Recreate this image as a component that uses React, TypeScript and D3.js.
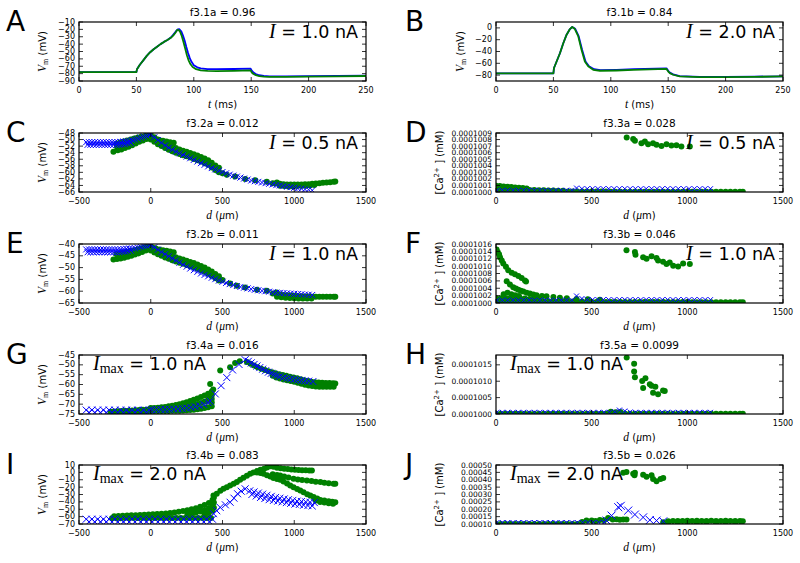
import React from 'react';
import * as d3 from 'd3';

type P = [number, number];

// ---------- Panel A / B : voltage traces (t in ms, V in mV) ----------
const aBlue: P[] = [[0,-78],[50,-78],[50.5,-74],[53,-68],[56,-62],[59,-56],[62,-51],[65,-47],[68,-43.5],[71,-40],[74,-37],[77,-34.5],[80,-31],[82,-27.5],[84,-23.5],[86,-20],[87.5,-19.8],[89,-22.5],[90.5,-28],[92,-35],[93.5,-44],[95,-52],[96.5,-59],[98,-64],[100,-68.5],[103,-71.5],[106,-73],[112,-73.8],[120,-74],[135,-73.7],[149.5,-73.2],[150.5,-76],[152,-78.5],[154,-80.5],[157,-82.2],[161,-83.2],[166,-83.6],[180,-83.7],[200,-83.5],[225,-83.2],[250,-82.8]];
const aGreen: P[] = [[0,-78],[50,-78],[50.5,-74],[53,-68],[56,-62],[59,-56],[62,-51],[65,-47],[68,-43.5],[71,-40],[74,-37],[77,-34.5],[80,-31.5],[82,-28.5],[84,-24.5],[85.5,-21],[86.5,-20.5],[88,-23],[89.5,-29],[91,-37],[92.5,-46],[94,-55],[95.5,-62],[97,-67],[99,-71],[102,-74],[106,-75.5],[112,-76.3],[120,-76.5],[135,-76.2],[149.5,-75.6],[150.5,-78.5],[152,-80.5],[154,-82],[157,-83.3],[161,-84],[166,-84.3],[180,-84.3],[200,-84],[225,-83.7],[250,-83.2]];
const bBlue: P[] = [[0,-77.2],[50,-77.2],[50.5,-68],[52.8,-57],[55.7,-43],[58.6,-26],[61.5,-11.5],[64.4,-2],[66.4,1.5],[69,-1.5],[72,-14],[75,-37],[78,-57],[81,-65],[85.5,-70],[91,-71.5],[105,-71],[120,-70],[148.5,-68.5],[150.5,-74],[151.4,-75.8],[154.3,-78.8],[160,-81.8],[177.5,-83],[200,-83],[225,-82.6],[250,-82]];
const bGreen: P[] = [[0,-77.2],[50,-77.2],[50.5,-68],[52.8,-57],[55.7,-43],[58.6,-26],[61.5,-11.5],[64.4,-2],[66.4,1.5],[68.7,-2],[71.6,-14],[74.5,-37],[77.4,-57],[80.3,-65],[84.7,-71],[90.5,-72.6],[105,-72.2],[119.5,-71.2],[148.5,-69.5],[150.5,-75],[151.4,-76.6],[154.3,-79.4],[160,-82.3],[177.5,-83.4],[200,-83.4],[225,-83],[250,-82.3]];

// ---------- Panel C (d in um, V in mV) ----------
const cBlue: P[] = [[-450,-50.8],[-440,-51.6],[-430,-50.8],[-420,-51.6],[-410,-50.8],[-400,-51.6],[-390,-50.8],[-380,-51.6],[-370,-50.8],[-360,-51.6],[-350,-50.8],[-340,-51.6],[-330,-50.8],[-320,-51.6],[-310,-50.8],[-300,-51.6],[-290,-50.8],[-280,-51.6],[-270,-50.8],[-260,-51.6],[-250,-50.8],[-240,-51.6],[-230,-50.8],[-220,-51.6],[-210,-50.7],[-200,-51.5],[-190,-50.6],[-180,-51.4],[-170,-50.5],[-160,-51.2],[-150,-50.4],[-140,-51.0],[-130,-50.2],
[-110,-50.0],[-90,-49.7],[-70,-49.4],[-50,-49.1],[-30,-48.8],[-10,-48.5],
[0,-48.4],[25,-49.3],[50,-50.2],[75,-51.0],[100,-51.8],[125,-52.5],[150,-53.1],[175,-53.7],[200,-54.2],[225,-54.7],[250,-55.2],[275,-55.7],[300,-56.2],[325,-56.7],[350,-57.2],[375,-57.7],[400,-58.2],[425,-58.7],[450,-59.1],[475,-59.5],[500,-59.9],[525,-60.3],[550,-60.7],[575,-61.0],[600,-61.3],[625,-61.6],[650,-61.9],[675,-62.2],[700,-62.5],[725,-62.7],[750,-62.9],[775,-63.1],[800,-63.3],[825,-63.5],[850,-63.7],[875,-63.9],[900,-64.0],[925,-64.2],[950,-64.4],[975,-64.5],[1000,-64.7],[1025,-64.9],[1050,-65.0],[1075,-65.2],[1100,-65.3],[1125,-65.5]];
const cGreen: P[] = [[-240,-51.3],[-215,-50.9],[-190,-50.6],[-165,-50.3],[-140,-50.0],[-115,-49.7],[-90,-49.4],[-65,-49.1],[-40,-48.9],[-15,-48.7],
[-235,-52.3],[-205,-51.8],[-175,-51.4],[-145,-51.0],[-115,-50.6],[-85,-50.1],[-55,-49.6],[-25,-49.2],
[-260,-53.7],[-230,-53.3],[-205,-53.0],[-180,-52.6],[-155,-52.2],[-130,-51.7],[-105,-51.2],[-80,-50.7],[-55,-50.3],[-30,-49.8],[-5,-49.3],
[10,-49.6],[35,-49.9],[60,-50.2],[85,-50.4],[110,-50.6],[135,-50.8],[160,-51.0],
[0,-48.6],[25,-49.3],[50,-50.0],[75,-50.6],[100,-51.2],[125,-51.7],[150,-52.2],[175,-52.6],[200,-53.0],[225,-53.4],[250,-53.7],[275,-54.1],[300,-54.5],[325,-54.9],[350,-55.3],[375,-55.8],[400,-56.3],[425,-57.1],[450,-57.9],[475,-58.6],
[0,-50.0],[25,-50.7],[50,-51.4],[75,-52.0],[100,-52.6],[125,-53.1],[150,-53.6],[175,-54.0],[200,-54.4],[225,-54.8],[250,-55.1],[275,-55.5],[300,-55.9],[325,-56.3],[350,-56.7],[375,-57.2],[400,-57.7],[425,-58.5],[450,-59.3],[475,-60.0],
[500,-60.3],[530,-60.7],[588,-61.3],[658,-62.0],[728,-62.4],[809,-62.9],[879,-63.1],
[850,-63.3],[875,-63.4],[900,-63.5],[925,-63.6],[950,-63.7],[975,-63.7],[1000,-63.7],[1025,-63.7],[1050,-63.7],[1075,-63.6],[1100,-63.6],[1125,-63.5],[1150,-63.4],[1175,-63.3],[1200,-63.2],[1225,-63.1],[1250,-63.0],[1275,-62.9],[1286,-62.8],
[900,-64.1],[930,-64.2],[960,-64.3],[990,-64.3],[1020,-64.2],[1050,-64.2],[1080,-64.1],[1110,-64.0],[1140,-63.9]];

// ---------- Panel E ----------
const eBlue: P[] = [[-450,-42.3],[-440,-43.5],[-430,-42.3],[-420,-43.5],[-410,-42.3],[-400,-43.5],[-390,-42.3],[-380,-43.5],[-370,-42.3],[-360,-43.5],[-350,-42.3],[-340,-43.5],[-330,-42.3],[-320,-43.5],[-310,-42.3],[-300,-43.5],[-290,-42.3],[-280,-43.5],[-270,-42.3],[-260,-43.5],[-250,-42.3],[-240,-43.5],[-230,-42.3],[-220,-43.4],[-210,-42.2],[-200,-43.3],[-190,-42.1],[-180,-43.2],[-170,-42.0],[-160,-43.0],[-150,-41.9],[-140,-42.8],[-130,-41.9],
[-110,-41.8],[-90,-41.5],[-70,-41.2],[-50,-40.9],[-30,-40.7],[-10,-40.5],
[0,-40.4],[25,-41.4],[50,-42.4],[75,-43.4],[100,-44.3],[125,-45.2],[150,-46.1],[175,-47.0],[200,-47.9],[225,-48.8],[250,-49.6],[275,-50.4],[300,-51.1],[325,-51.8],[350,-52.5],[375,-53.1],[400,-53.7],[425,-54.3],[450,-54.9],[475,-55.5],[500,-56.0],[525,-56.5],[550,-57.0],[575,-57.4],[600,-57.8],[625,-58.2],[650,-58.5],[675,-58.8],[700,-59.1],[725,-59.4],[750,-59.6],[775,-59.8],[800,-60.0],[825,-60.2],[850,-60.4],[875,-60.6],[900,-60.7],[925,-60.8],[950,-60.9],[975,-61.0],[1000,-61.1],[1025,-61.2],[1050,-61.3],[1075,-61.4],[1100,-61.5],[1125,-61.6]];
const eGreen: P[] = [[-240,-44.2],[-215,-43.9],[-190,-43.6],[-165,-43.3],[-140,-43.0],[-115,-42.6],[-90,-42.2],[-65,-41.8],[-40,-41.4],[-15,-41.0],
[-225,-45.2],[-195,-44.8],[-165,-44.4],[-135,-44.0],[-105,-43.5],[-75,-43.0],[-45,-42.4],[-20,-41.8],
[-260,-46.6],[-235,-46.4],[-210,-46.1],[-185,-45.8],[-160,-45.4],[-135,-45.0],[-110,-44.5],[-85,-44.0],[-60,-43.4],[-35,-42.8],[-10,-42.1],
[10,-41.5],[35,-41.9],[60,-42.3],[85,-42.6],[110,-42.9],[135,-43.2],[160,-43.5],
[0,-41.0],[25,-41.8],[50,-42.5],[75,-43.2],[100,-43.9],[125,-44.5],[150,-45.1],[175,-45.6],[200,-46.1],[225,-46.6],[250,-47.1],[275,-47.6],[300,-48.1],[325,-48.7],[350,-49.3],[375,-50.0],[400,-50.8],[425,-51.7],[450,-52.7],[475,-53.7],
[0,-42.8],[25,-43.6],[50,-44.3],[75,-45.0],[100,-45.7],[125,-46.3],[150,-46.9],[175,-47.4],[200,-47.9],[225,-48.4],[250,-48.9],[275,-49.4],[300,-49.9],[325,-50.5],[350,-51.1],[375,-51.8],[400,-52.6],[425,-53.5],[450,-54.5],[475,-55.5],
[500,-55.3],[553,-56.7],[600,-57.7],[658,-58.4],[740,-59.4],[809,-59.8],[879,-60.5],
[850,-61.0],[875,-61.2],[900,-61.4],[925,-61.6],[950,-61.7],[975,-61.8],[1000,-61.9],[1025,-62.0],[1050,-62.1],[1075,-62.2],[1100,-62.2],[1125,-62.3],[1150,-62.3],[1175,-62.3],[1200,-62.3],[1225,-62.3],[1250,-62.3],[1275,-62.3],[1286,-62.4],
[880,-62.3],[910,-62.6],[940,-62.8],[970,-62.9],[1000,-63.0],[1030,-63.1],[1060,-63.1],[1090,-63.1],[1120,-63.1]];

// ---------- Panel G ----------
const gBlue: P[] = [[-450,-73.0],[-430,-74.2],[-410,-73.0],[-390,-74.2],[-370,-73.0],[-350,-74.2],[-330,-73.0],[-310,-74.2],[-290,-73.0],[-270,-74.2],[-250,-73.0],[-230,-74.2],[-210,-73.0],[-190,-74.2],[-170,-73.0],[-150,-74.2],[-130,-73.0],[-110,-74.2],[-90,-73.0],[-70,-74.2],[-50,-73.0],[-30,-74.2],[-10,-73.0],
[10,-72.8],[40,-72.8],[70,-72.7],[100,-72.7],[130,-72.6],[160,-72.5],[190,-72.4],[220,-72.2],[250,-72.0],[280,-71.7],[310,-71.3],[340,-70.8],[370,-70.2],[400,-69.2],
[414,-68.5],[450,-64.8],[490,-60.6],[530,-56.5],[570,-52.6],[615,-49.8],[658,-47.4],
[680,-48.2],[700,-49.0],[720,-49.8],[740,-50.6],[760,-51.4],[780,-52.2],[800,-53.0],[820,-53.7],[840,-54.3],[860,-54.9],[880,-55.4],[900,-55.9],[925,-56.4],[950,-56.8],[975,-57.1],[1000,-57.4],[1025,-57.7],[1050,-57.9],[1075,-58.1],[1100,-58.3],[1130,-58.5]];
const gGreen: P[] = [[-280,-73.8],[-255,-73.7],[-230,-73.6],[-205,-73.5],[-180,-73.4],[-155,-73.3],[-130,-73.2],[-105,-73.1],[-80,-73.0],[-55,-72.9],[-30,-72.8],[-5,-72.7],
[-270,-74.6],[-240,-74.6],[-210,-74.6],[-180,-74.6],[-150,-74.6],[-120,-74.6],[-90,-74.6],[-60,-74.6],[-30,-74.6],
[0,-73.5],[25,-73.5],[50,-73.5],[75,-73.5],[100,-73.5],[125,-73.5],[150,-73.4],[175,-73.4],[200,-73.3],[225,-73.2],[250,-73.1],[275,-73.0],[300,-72.8],[325,-72.6],[350,-72.3],[375,-72.0],[400,-71.6],[425,-71.0],
[0,-72.0],[25,-71.9],[50,-71.8],[75,-71.6],[100,-71.4],[125,-71.1],[150,-70.8],[175,-70.4],[200,-70.0],[225,-69.5],[250,-69.0],[275,-68.4],[300,-67.8],[325,-67.1],[350,-66.4],[375,-65.6],[400,-64.7],[425,-63.6],
[150,-72.1],[175,-71.9],[200,-71.6],[225,-71.3],[250,-71.0],[275,-70.7],[300,-70.3],[325,-69.9],[350,-69.4],[375,-68.8],[400,-68.2],[425,-67.4],
[400,-66.3],[425,-65.5],[425,-69.2],[435,-62.5],
[414,-59.8],[484,-52.9],[553,-51.2],[588,-49.1],[620,-48.2],
[670,-48.6],[695,-49.4],[720,-50.3],[745,-51.2],[770,-52.0],[795,-52.6],[820,-53.2],[845,-53.8],[870,-54.3],[895,-54.8],[920,-55.2],[945,-55.6],[970,-56.0],[995,-56.4],[1020,-56.8],[1045,-57.3],[1070,-57.8],[1095,-58.2],[1120,-58.6],[1145,-58.8],[1170,-59.0],[1195,-59.1],[1220,-59.2],[1245,-59.3],[1270,-59.4],[1286,-59.5],
[850,-55.6],[875,-56.4],[900,-57.0],[925,-57.4],[950,-57.8],[975,-58.2],[1000,-58.6],[1025,-59.1],[1050,-59.6],[1075,-60.1],[1100,-60.5],[1125,-60.8],[1150,-61.0],[1175,-61.1],[1200,-61.2],[1225,-61.2],[1250,-61.2],[1275,-61.2]];

// ---------- Panel I ----------
const iBlue: P[] = [[-450,-63.5],[-430,-67],[-410,-63.5],[-390,-67],[-370,-63.5],[-350,-67],[-330,-63.5],[-310,-67],[-290,-63.5],[-270,-67],[-250,-63.5],[-230,-67],[-210,-63.5],[-190,-67],[-170,-63.5],[-150,-67],[-130,-63.5],[-110,-67],[-90,-63.5],[-70,-67],[-50,-63.5],[-30,-67],[-10,-63.5],[10,-67],[30,-63.5],[50,-67],[70,-63.5],[90,-67],[110,-63.5],[130,-67],[150,-63.5],[170,-67],[190,-63.5],[210,-67],[230,-63.5],[250,-67],[270,-63.5],[290,-67],[310,-63.5],[330,-67],[350,-63.5],[370,-67],[390,-63.5],[410,-67],[430,-63.5],
[437,-56],[460,-52],[484,-47.5],[520,-44],[553,-40.5],[580,-35],[605,-29],[630,-25.5],[658,-22.3],
[690,-25],[720,-26.5],[750,-28],[780,-29.5],[810,-31],[840,-32.5],[870,-34],[900,-35],[930,-36],[960,-37],[990,-38],[1020,-39],[1050,-39.5],[1080,-40],[1110,-40.5],[1140,-41],
[705,-30],[735,-32],[765,-34],[795,-35.5],[825,-37],[855,-38],[885,-39],[915,-40],[945,-41],[975,-42],[1005,-43],[1035,-43.5],[1065,-44.5],[1095,-45],[1125,-45.5]];
const iGreen: P[] = [[-270,-62.3],[-240,-62.2],[-210,-62.1],[-180,-62.0],[-150,-62.0],[-120,-61.9],[-90,-61.9],[-60,-61.8],[-30,-61.8],[0,-61.8],[30,-61.8],[60,-61.8],[90,-61.8],[120,-61.8],[150,-61.8],[180,-61.8],[210,-61.8],[240,-61.8],[270,-61.8],[300,-61.8],[330,-61.8],[360,-61.8],[390,-61.8],[420,-61.8],
[-255,-59.5],[-225,-59.2],[-195,-58.9],[-165,-58.6],[-135,-58.3],[-105,-58.0],[-75,-57.7],[-45,-57.4],[-15,-57.1],[15,-56.8],[45,-56.4],[75,-56.0],[105,-55.6],[135,-55.0],[165,-54.3],[195,-53.5],[225,-52.5],[255,-51.3],[285,-50.0],[315,-48.5],[345,-46.5],[375,-44.2],[405,-41.5],[430,-37.5],[440,-34],
[255,-56.5],[285,-55.5],[315,-54.3],[345,-53],[375,-51.3],[405,-49],[430,-45.5],[440,-41],
[375,-57],[405,-55],[430,-52],[440,-48],[437,-31.4],
[460,-29],[485,-25],[507,-22.3],[530,-20],[553,-17.7],[578,-15.5],[600,-13.2],[623,-10],[646,-7.3],[670,-4.5],[693,-1.8],[716,0],[740,1.8],[765,3.5],[790,5],
[810,6.5],[833,8.2],[855,7.5],[880,6.4],[905,5.7],[930,5.0],[955,4.5],[980,4.0],[1005,3.6],[1030,3.3],[1055,3.0],[1080,2.8],[1105,2.7],[1123,2.7],
[850,-2.5],[880,-3.5],[902,-4.1],[930,-5.5],[960,-7],[995,-8.6],[1025,-9.5],[1055,-10.2],[1088,-10.9],[1120,-11.8],[1150,-12.6],[1182,-13.2],[1210,-14],[1240,-14.7],[1274,-15.5],[1286,-15.5],
[740,0],[765,-1],[786,-2],[810,-4],[833,-5.5],[855,-7.5],[880,-9],[902,-10],[925,-12.5],[950,-15],[972,-17.7],[995,-20],[1020,-22.5],[1042,-24.5],[1065,-27],[1090,-29.5],[1112,-31.4],[1135,-33.5],[1160,-35.5],[1182,-37.3],[1210,-38.3],[1240,-39],[1265,-39.8],[1286,-40.5],
[1150,-38],[1180,-40],[1210,-41],[1240,-42],[1270,-42.5]];

// ---------- Panel D ([Ca] in mM) ----------
const dBlue: P[] = [[5,1.00025e-4],[33,1.00025e-4],[61,1.00025e-4],[89,1.00025e-4],[117,1.00025e-4],[145,1.00025e-4],[173,1.00025e-4],[201,1.00025e-4],[229,1.00025e-4],[257,1.00025e-4],[285,1.00025e-4],[313,1.00025e-4],[341,1.00025e-4],[369,1.00025e-4],[397,1.00025e-4],
[421,1.0006e-4],[449,1.0005e-4],[477,1.0005e-4],[505,1.0005e-4],[533,1.0005e-4],[561,1.0005e-4],[589,1.0005e-4],[617,1.0005e-4],[645,1.0005e-4],[673,1.0005e-4],[701,1.0005e-4],[729,1.0005e-4],[757,1.0005e-4],[785,1.0005e-4],[813,1.0005e-4],[841,1.0005e-4],[869,1.0005e-4],[897,1.0005e-4],[925,1.0005e-4],[953,1.0005e-4],[981,1.0005e-4],[1009,1.0005e-4],[1037,1.0005e-4],[1065,1.0005e-4],[1093,1.0005e-4],[1121,1.0005e-4]];
const dGreen: P[] = [[683,1.00833e-4],[717,1.00807e-4],[726,1.00781e-4],[760,1.00745e-4],[778,1.00771e-4],[795,1.00729e-4],[821,1.00745e-4],[839,1.00719e-4],[865,1.00703e-4],[891,1.00729e-4],[917,1.00708e-4],[943,1.00714e-4],[969,1.00693e-4],[1013,1.00693e-4],
[0,1.00095e-4],[20,1.0009e-4],[40,1.00085e-4],[60,1.0008e-4],[80,1.00075e-4],[100,1.0007e-4],[120,1.00065e-4],[140,1.0006e-4],[160,1.00055e-4],
[0,1.0004e-4],[25,1.0004e-4],[50,1.00038e-4],[75,1.00036e-4],[100,1.00035e-4],[125,1.00034e-4],[150,1.00033e-4],[175,1.00032e-4],[200,1.0003e-4],[225,1.00028e-4],[250,1.00026e-4],[275,1.00024e-4],[300,1.00022e-4],[325,1.0002e-4],[350,1.00018e-4],
[375,1.00008e-4],[400,1.00008e-4],[425,1.00007e-4],[450,1.00007e-4],[475,1.00007e-4],[500,1.00006e-4],[525,1.00006e-4],[550,1.00006e-4],[575,1.00006e-4],[600,1.00005e-4],[625,1.00005e-4],[650,1.00005e-4],[675,1.00005e-4],[700,1.00005e-4],[725,1.00005e-4],[750,1.00004e-4],[775,1.00004e-4],[800,1.00004e-4],[825,1.00004e-4],[850,1.00004e-4],[875,1.00004e-4],[900,1.00004e-4],[925,1.00003e-4],[950,1.00003e-4],[975,1.00003e-4],[1000,1.00003e-4],[1025,1.00003e-4],[1050,1.00003e-4],[1075,1.00003e-4],[1100,1.00003e-4],[1125,1.00003e-4],[1150,1.00002e-4],[1175,1.00002e-4],[1200,1.00002e-4],[1225,1.00002e-4],[1250,1.00002e-4],[1275,1.00002e-4],[1290,1.00002e-4]];

// ---------- Panel F ----------
const fBlue: P[] = [[5,1.00075e-4],[33,1.00075e-4],[61,1.00075e-4],[89,1.00075e-4],[117,1.00075e-4],[145,1.00075e-4],[173,1.00075e-4],[201,1.00075e-4],[229,1.00075e-4],[257,1.00075e-4],[285,1.00075e-4],[313,1.00075e-4],[341,1.00075e-4],[369,1.00075e-4],[397,1.00075e-4],
[421,1.0019e-4],[449,1.0012e-4],[477,1.0009e-4],[505,1.0009e-4],[533,1.0009e-4],[561,1.0009e-4],[589,1.0009e-4],[617,1.0009e-4],[645,1.0009e-4],[673,1.0009e-4],[701,1.0009e-4],[729,1.0009e-4],[757,1.0009e-4],[785,1.0009e-4],[813,1.0009e-4],[841,1.0009e-4],[869,1.0009e-4],[897,1.0009e-4],[925,1.0009e-4],[953,1.0009e-4],[981,1.0009e-4],[1009,1.0009e-4],[1037,1.0009e-4],[1065,1.0009e-4],[1093,1.0009e-4],[1121,1.0009e-4]];
const fGreen: P[] = [[682,1.0143e-4],[726,1.0138e-4],[729,1.0131e-4],[769,1.0124e-4],[787,1.012e-4],[813,1.0127e-4],[839,1.0122e-4],[847,1.0115e-4],[873,1.0112e-4],[891,1.0106e-4],[908,1.011e-4],[926,1.0101e-4],[952,1.0099e-4],[978,1.0107e-4],[1013,1.0106e-4],
[3,1.0145e-4],[9,1.0138e-4],[16,1.0132e-4],[21,1.0124e-4],[30,1.0115e-4],[38,1.0107e-4],[52,1.0098e-4],[64,1.0089e-4],[82,1.0082e-4],[99,1.0078e-4],[117,1.0073e-4],[134,1.0068e-4],[151,1.0061e-4],[157,1.0058e-4],
[56,1.0059e-4],[73,1.005e-4],[90,1.0043e-4],[104,1.0039e-4],[117,1.0036e-4],[130,1.0033e-4],[143,1.0031e-4],[160,1.0028e-4],[177,1.0026e-4],[195,1.0023e-4],[212,1.0021e-4],[240,1.0019e-4],[264,1.0018e-4],[300,1.0016e-4],[334,1.0014e-4],[370,1.0013e-4],[421,1.0011e-4],[480,1.001e-4],[543,1.0009e-4],
[0,1.0013e-4],[25,1.0013e-4],[50,1.0013e-4],[75,1.0013e-4],[100,1.0013e-4],[125,1.0013e-4],[150,1.0012e-4],[175,1.0011e-4],[200,1.001e-4],[225,1.0009e-4],
[40,1.0024e-4],[60,1.0028e-4],[80,1.0024e-4],[100,1.0021e-4],[120,1.0019e-4],
[0,1.0004e-4],[25,1.0004e-4],[50,1.0004e-4],[75,1.0004e-4],[100,1.0004e-4],[125,1.0004e-4],[150,1.0004e-4],[175,1.0004e-4],[200,1.0004e-4],[225,1.0004e-4],[250,1.0004e-4],[275,1.0004e-4],[300,1.0004e-4],[325,1.0004e-4],[350,1.0004e-4],[375,1.0004e-4],[400,1.0004e-4],[425,1.0004e-4],[450,1.0004e-4],[475,1.0003e-4],[500,1.0003e-4],[525,1.0003e-4],[550,1.0003e-4],[575,1.0003e-4],[600,1.0003e-4],[625,1.0003e-4],[650,1.0003e-4],[675,1.0003e-4],[700,1.0003e-4],[725,1.0003e-4],[750,1.0003e-4],[775,1.0003e-4],[800,1.0003e-4],[825,1.0003e-4],[850,1.0003e-4],[875,1.0003e-4],[900,1.0003e-4],[925,1.0003e-4],[950,1.0003e-4],[975,1.0003e-4],[1000,1.0003e-4],[1025,1.0002e-4],[1050,1.0002e-4],[1075,1.0002e-4],[1100,1.0002e-4],[1125,1.0002e-4],[1150,1.0002e-4],[1175,1.0002e-4],[1200,1.0002e-4],[1225,1.0002e-4],[1250,1.0002e-4],[1275,1.0002e-4],[1290,1.0002e-4]];

// ---------- Panel H ----------
const hBlue: P[] = [[5,1.0005e-4],[33,1.0005e-4],[61,1.0005e-4],[89,1.0005e-4],[117,1.0005e-4],[145,1.0005e-4],[173,1.0005e-4],[201,1.0005e-4],[229,1.0005e-4],[257,1.0005e-4],[285,1.0005e-4],[313,1.0005e-4],[341,1.0005e-4],[369,1.0005e-4],[397,1.0005e-4],[425,1.0005e-4],[453,1.0005e-4],[481,1.0005e-4],[509,1.0005e-4],[537,1.0005e-4],[565,1.0005e-4],[593,1.0005e-4],[621,1.0007e-4],[645,1.0012e-4],[673,1.0009e-4],[701,1.0006e-4],[729,1.0005e-4],[757,1.0005e-4],[785,1.0005e-4],[813,1.0005e-4],[841,1.0005e-4],[869,1.0005e-4],[897,1.0005e-4],[925,1.0005e-4],[953,1.0005e-4],[981,1.0005e-4],[1009,1.0005e-4],[1037,1.0005e-4],[1065,1.0005e-4],[1093,1.0005e-4],[1121,1.0005e-4]];
const hGreen: P[] = [[683,1.0172e-4],[722,1.0153e-4],[722,1.013e-4],[726,1.0112e-4],[764,1.0101e-4],[781,1.0109e-4],[769,1.0079e-4],[804,1.0091e-4],[813,1.0086e-4],[833,1.0083e-4],[821,1.0065e-4],[847,1.006e-4],[873,1.0072e-4],[882,1.007e-4],
[600,1.0007e-4],[625,1.0005e-4],[650,1.0006e-4],
[0,1.0001e-4],[25,1.0001e-4],[50,1.0001e-4],[75,1.0001e-4],[100,1.0001e-4],[125,1.0001e-4],[150,1.0001e-4],[175,1.0001e-4],[200,1.0001e-4],[225,1.0001e-4],[250,1.0001e-4],[275,1.0001e-4],[300,1.0001e-4],[325,1.0001e-4],[350,1.0001e-4],[375,1.0001e-4],[400,1.0001e-4],[425,1.0001e-4],[450,1.0001e-4],[475,1.0001e-4],[500,1.0001e-4],[525,1.0001e-4],[550,1.0001e-4],[575,1.0001e-4],[675,1.0001e-4],[700,1.0001e-4],[725,1.0001e-4],[750,1.0001e-4],[775,1.0001e-4],[800,1.0001e-4],[825,1.0001e-4],[850,1.0001e-4],[875,1.0001e-4],[900,1.0001e-4],[925,1.0001e-4],[950,1.0001e-4],[975,1.0001e-4],[1000,1.0001e-4],[1025,1.0001e-4],[1050,1.0001e-4],[1075,1.0001e-4],[1100,1.0001e-4],[1125,1.0001e-4],[1150,1.0001e-4],[1175,1.0001e-4],[1200,1.0001e-4],[1225,1.0001e-4],[1250,1.0001e-4],[1275,1.0001e-4],[1290,1.0001e-4]];

// ---------- Panel J ----------
const jBlueBase: P[] = [[5,1.1e-4],[33,1.1e-4],[61,1.1e-4],[89,1.1e-4],[117,1.1e-4],[145,1.1e-4],[173,1.1e-4],[201,1.1e-4],[229,1.1e-4],[257,1.1e-4],[285,1.1e-4],[313,1.1e-4],[341,1.1e-4],[369,1.1e-4],[397,1.1e-4],[425,1.1e-4],[453,1.1e-4],[481,1.1e-4],[509,1.1e-4],[537,1.1e-4],[565,1.12e-4]];
const jBluePeak: P[] = [[578,1.23e-4],[604,1.57e-4],[639,2.14e-4],[652,2.23e-4],[691,1.91e-4],[726,1.64e-4],[769,1.45e-4],[804,1.27e-4],[839,1.23e-4],[874,1.18e-4]];
const jGreen: P[] = [[0,1.0e-4],[25,1.0e-4],[50,1.0e-4],[75,1.0e-4],[100,1.0e-4],[125,1.0e-4],[150,1.0e-4],[175,1.0e-4],[200,1.0e-4],[225,1.0e-4],[250,1.0e-4],[275,1.0e-4],[300,1.0e-4],[325,1.0e-4],[350,1.0e-4],[375,1.0e-4],[400,1.0e-4],[425,1.0e-4],
[450,1.13e-4],[473,1.23e-4],[500,1.23e-4],[520,1.2e-4],[543,1.27e-4],[565,1.25e-4],[586,1.41e-4],[610,1.3e-4],[630,1.32e-4],[647,1.28e-4],[665,1.3e-4],[682,1.3e-4],
[665,4.48e-4],[682,4.52e-4],[717,4.41e-4],[726,4.48e-4],[724,4.3e-4],[769,4.34e-4],[787,4.2e-4],[813,4.3e-4],[821,4.05e-4],[839,3.9e-4],[860,4.05e-4],[874,4.12e-4],
[874,1.12e-4],[900,1.18e-4],[925,1.2e-4],[950,1.21e-4],[975,1.2e-4],[1000,1.22e-4],[1025,1.21e-4],[1050,1.22e-4],[1075,1.2e-4],[1100,1.21e-4],[1125,1.22e-4],[1150,1.2e-4],[1175,1.21e-4],[1200,1.22e-4],[1225,1.2e-4],[1250,1.21e-4],[1275,1.2e-4],[1290,1.19e-4],
[900,1.06e-4],[950,1.05e-4],[1000,1.06e-4],[1050,1.05e-4],[1100,1.06e-4],[1150,1.05e-4],[1200,1.06e-4],[1250,1.05e-4]];

// ---------- ticks ----------
const tTicks = [0, 50, 100, 150, 200, 250];
const dTicksLeft = [-500, 0, 500, 1000, 1500];
const dTicksRight = [0, 500, 1000, 1500];
const aYTicks = [-90, -80, -70, -60, -50, -40, -30, -20, -10];
const bYTicks = [-80, -60, -40, -20, 0];
const cYTicks = [-66, -64, -62, -60, -58, -56, -54, -52, -50, -48];
const eYTicks = [-65, -60, -55, -50, -45, -40];
const gYTicks = [-75, -70, -65, -60, -55, -50, -45];
const iYTicks = [-70, -60, -50, -40, -30, -20, -10, 0, 10];
const dYTicks = [1.000e-4, 1.001e-4, 1.002e-4, 1.003e-4, 1.004e-4, 1.005e-4, 1.006e-4, 1.007e-4, 1.008e-4, 1.009e-4];
const fYTicks = [1.000e-4, 1.002e-4, 1.004e-4, 1.006e-4, 1.008e-4, 1.010e-4, 1.012e-4, 1.014e-4, 1.016e-4];
const hYTicks = [1.000e-4, 1.005e-4, 1.010e-4, 1.015e-4];
const jYTicks = [1.0e-4, 1.5e-4, 2.0e-4, 2.5e-4, 3.0e-4, 3.5e-4, 4.0e-4, 4.5e-4, 5.0e-4];

const GREEN = '#008000';
const BLUE = '#0000ff';
const SANS = 'DejaVu Sans, sans-serif';
const SERIF = 'Liberation Serif, DejaVu Serif, serif';

interface Series { kind: 'line' | 'dot' | 'x'; data: P[]; color: string; size?: number }
interface Spec {
  letter: string; title: string; col: number; row: number;
  xDomain: [number, number]; xTicks: number[];
  yDomain: [number, number]; yTicks: number[]; yFmt: (v: number) => string;
  xLabel: 't' | 'd'; yLabel: 'V' | 'Ca';
  note: string; max: boolean;
  series: Series[];
}

const TOPS = [22, 133, 244, 355, 465];
const PH = 59;
const PW = 287;
const LEFTS = [79, 496];

const fInt = d3.format('d');
const f7 = d3.format('.7f');
const f5 = d3.format('.5f');

const specs: Spec[] = [
  { letter: 'A', title: 'f3.1a = 0.96', col: 0, row: 0, xDomain: [0, 250], xTicks: tTicks, yDomain: [-90, -10], yTicks: aYTicks, yFmt: fInt, xLabel: 't', yLabel: 'V', note: '1.0', max: false,
    series: [{ kind: 'line', data: aBlue, color: BLUE }, { kind: 'line', data: aGreen, color: GREEN }] },
  { letter: 'B', title: 'f3.1b = 0.84', col: 1, row: 0, xDomain: [0, 250], xTicks: tTicks, yDomain: [-90, 10], yTicks: bYTicks, yFmt: fInt, xLabel: 't', yLabel: 'V', note: '2.0', max: false,
    series: [{ kind: 'line', data: bBlue, color: BLUE }, { kind: 'line', data: bGreen, color: GREEN }] },
  { letter: 'C', title: 'f3.2a = 0.012', col: 0, row: 1, xDomain: [-500, 1500], xTicks: dTicksLeft, yDomain: [-66, -48], yTicks: cYTicks, yFmt: fInt, xLabel: 'd', yLabel: 'V', note: '0.5', max: false,
    series: [{ kind: 'dot', data: cGreen, color: GREEN }, { kind: 'x', data: cBlue, color: BLUE, size: 3 }] },
  { letter: 'D', title: 'f3.3a = 0.028', col: 1, row: 1, xDomain: [0, 1500], xTicks: dTicksRight, yDomain: [1.0e-4, 1.009e-4], yTicks: dYTicks, yFmt: f7, xLabel: 'd', yLabel: 'Ca', note: '0.5', max: false,
    series: [{ kind: 'dot', data: dGreen, color: GREEN }, { kind: 'x', data: dBlue, color: BLUE, size: 2.5 }] },
  { letter: 'E', title: 'f3.2b = 0.011', col: 0, row: 2, xDomain: [-500, 1500], xTicks: dTicksLeft, yDomain: [-65, -40], yTicks: eYTicks, yFmt: fInt, xLabel: 'd', yLabel: 'V', note: '1.0', max: false,
    series: [{ kind: 'dot', data: eGreen, color: GREEN }, { kind: 'x', data: eBlue, color: BLUE, size: 3 }] },
  { letter: 'F', title: 'f3.3b = 0.046', col: 1, row: 2, xDomain: [0, 1500], xTicks: dTicksRight, yDomain: [1.0e-4, 1.016e-4], yTicks: fYTicks, yFmt: f7, xLabel: 'd', yLabel: 'Ca', note: '1.0', max: false,
    series: [{ kind: 'dot', data: fGreen, color: GREEN }, { kind: 'x', data: fBlue, color: BLUE, size: 2.5 }] },
  { letter: 'G', title: 'f3.4a = 0.016', col: 0, row: 3, xDomain: [-500, 1500], xTicks: dTicksLeft, yDomain: [-75, -45], yTicks: gYTicks, yFmt: fInt, xLabel: 'd', yLabel: 'V', note: '1.0', max: true,
    series: [{ kind: 'dot', data: gGreen, color: GREEN }, { kind: 'x', data: gBlue, color: BLUE, size: 3.5 }] },
  { letter: 'H', title: 'f3.5a = 0.0099', col: 1, row: 3, xDomain: [0, 1500], xTicks: dTicksRight, yDomain: [1.0e-4, 1.018e-4], yTicks: hYTicks, yFmt: f7, xLabel: 'd', yLabel: 'Ca', note: '1.0', max: true,
    series: [{ kind: 'dot', data: hGreen, color: GREEN }, { kind: 'x', data: hBlue, color: BLUE, size: 2.5 }] },
  { letter: 'I', title: 'f3.4b = 0.083', col: 0, row: 4, xDomain: [-500, 1500], xTicks: dTicksLeft, yDomain: [-70, 10], yTicks: iYTicks, yFmt: fInt, xLabel: 'd', yLabel: 'V', note: '2.0', max: true,
    series: [{ kind: 'dot', data: iGreen, color: GREEN }, { kind: 'x', data: iBlue, color: BLUE, size: 3.5 }] },
  { letter: 'J', title: 'f3.5b = 0.026', col: 1, row: 4, xDomain: [0, 1500], xTicks: dTicksRight, yDomain: [1.0e-4, 5.0e-4], yTicks: jYTicks, yFmt: f5, xLabel: 'd', yLabel: 'Ca', note: '2.0', max: true,
    series: [{ kind: 'dot', data: jGreen, color: GREEN }, { kind: 'x', data: jBlueBase, color: BLUE, size: 2.5 }, { kind: 'x', data: jBluePeak, color: BLUE, size: 4 }] },
];

function Panel({ p }: { p: Spec }) {
  const L = LEFTS[p.col];
  const T = TOPS[p.row];
  const x = d3.scaleLinear().domain(p.xDomain).range([L, L + PW]);
  const y = d3.scaleLinear().domain(p.yDomain).range([T + PH, T]);
  const line = d3.line<P>().x(d => x(d[0])).y(d => y(d[1]));
  const cid = `clip-${p.letter}`;
  const midX = L + PW / 2;
  const midY = T + PH / 2;
  const ylabX = p.col === 0 ? 46 : (p.yLabel === 'V' ? 464 : 443);
  const rightCa = p.yLabel === 'Ca';
  const tickFs = rightCa ? 7.5 : 8;
  const xPath = (s: Series) => {
    const h = s.size ?? 3;
    return s.data.map(([a, b]) => {
      const cx = x(a), cy = y(b);
      return `M${cx - h},${cy - h}L${cx + h},${cy + h}M${cx - h},${cy + h}L${cx + h},${cy - h}`;
    }).join('');
  };
  return (
    <g>
      <defs>
        <clipPath id={cid}><rect x={L} y={T} width={PW} height={PH} /></clipPath>
      </defs>
      <g clipPath={`url(#${cid})`}>
        {p.series.map((s, i) => {
          if (s.kind === 'line') return <path key={i} d={line(s.data) || ''} fill="none" stroke={s.color} strokeWidth={1.8} strokeLinejoin="round" />;
          if (s.kind === 'dot') return (
            <g key={i} fill={s.color}>
              {s.data.map((d, j) => <circle key={j} cx={x(d[0])} cy={y(d[1])} r={s.size ?? 3} />)}
            </g>
          );
          return <path key={i} d={xPath(s)} fill="none" stroke={s.color} strokeWidth={1} />;
        })}
      </g>
      <rect x={L} y={T} width={PW} height={PH} fill="none" stroke="#000" strokeWidth={1.2} />
      <g stroke="#000" strokeWidth={0.8}>
        {p.yTicks.map((t, i) => (
          <g key={i}>
            <line x1={L} x2={L + 4} y1={y(t)} y2={y(t)} />
            <line x1={L + PW - 4} x2={L + PW} y1={y(t)} y2={y(t)} />
          </g>
        ))}
        {p.xTicks.map((t, i) => (
          <g key={i}>
            <line x1={x(t)} x2={x(t)} y1={T + PH} y2={T + PH - 4} />
            <line x1={x(t)} x2={x(t)} y1={T} y2={T + 4} />
          </g>
        ))}
      </g>
      <g fontFamily={SANS} fontSize={tickFs} fill="#000">
        {p.yTicks.map((t, i) => (
          <text key={i} x={L - 4} y={y(t)} textAnchor="end" dominantBaseline="central">{p.yFmt(t)}</text>
        ))}
      </g>
      <g fontFamily={SANS} fontSize={8} fill="#000">
        {p.xTicks.map((t, i) => (
          <text key={i} x={x(t)} y={T + PH + 12} textAnchor="middle">{fInt(t)}</text>
        ))}
      </g>
      <text x={midX} y={T - 6} textAnchor="middle" fontFamily={SANS} fontSize={10.5}>{p.title}</text>
      <text x={p.col === 0 ? 6 : 405} y={T + 9} fontFamily={SANS} fontSize={28}>{p.letter}</text>
      <text x={midX} y={T + PH + 27} textAnchor="middle" fontFamily={SANS} fontSize={10}>
        {p.xLabel === 't'
          ? <><tspan fontFamily={SERIF} fontStyle="italic" fontSize={11.5}>t</tspan><tspan> (ms)</tspan></>
          : <><tspan fontFamily={SERIF} fontStyle="italic" fontSize={11.5}>d</tspan><tspan> (</tspan><tspan fontFamily={SERIF} fontStyle="italic" fontSize={11.5}>μ</tspan><tspan>m)</tspan></>}
      </text>
      <text transform={`translate(${ylabX},${midY}) rotate(-90)`} textAnchor="middle" fontFamily={SANS} fontSize={10}>
        {p.yLabel === 'V'
          ? <><tspan fontFamily={SERIF} fontStyle="italic" fontSize={11.5}>V</tspan><tspan fontFamily={SERIF} fontSize={8} dy={2}>m</tspan><tspan dy={-2}> (mV)</tspan></>
          : <><tspan>[Ca</tspan><tspan fontSize={7} dy={-4}>2+</tspan><tspan dy={4}> ] (mM)</tspan></>}
      </text>
      {p.max
        ? <text x={L + 14} y={T + 15} fontFamily={SANS} fontSize={17.5}>
            <tspan fontFamily={SERIF} fontStyle="italic" fontSize={20}>I</tspan>
            <tspan fontFamily={SERIF} fontSize={14} dy={3}>max</tspan>
            <tspan dy={-3}>{` = ${p.note} nA`}</tspan>
          </text>
        : <text x={L + PW - 8} y={T + 16} textAnchor="end" fontFamily={SANS} fontSize={17.5}>
            <tspan fontFamily={SERIF} fontStyle="italic" fontSize={20}>I</tspan>
            <tspan>{` = ${p.note} nA`}</tspan>
          </text>}
    </g>
  );
}

export default function App() {
  return (
    <svg width={800} height={563} viewBox="0 0 800 563" style={{ position: 'absolute', left: 0, top: 0, background: '#fff' }}>
      <rect x={0} y={0} width={800} height={563} fill="#fff" />
      {specs.map(s => <Panel key={s.letter} p={s} />)}
    </svg>
  );
}
